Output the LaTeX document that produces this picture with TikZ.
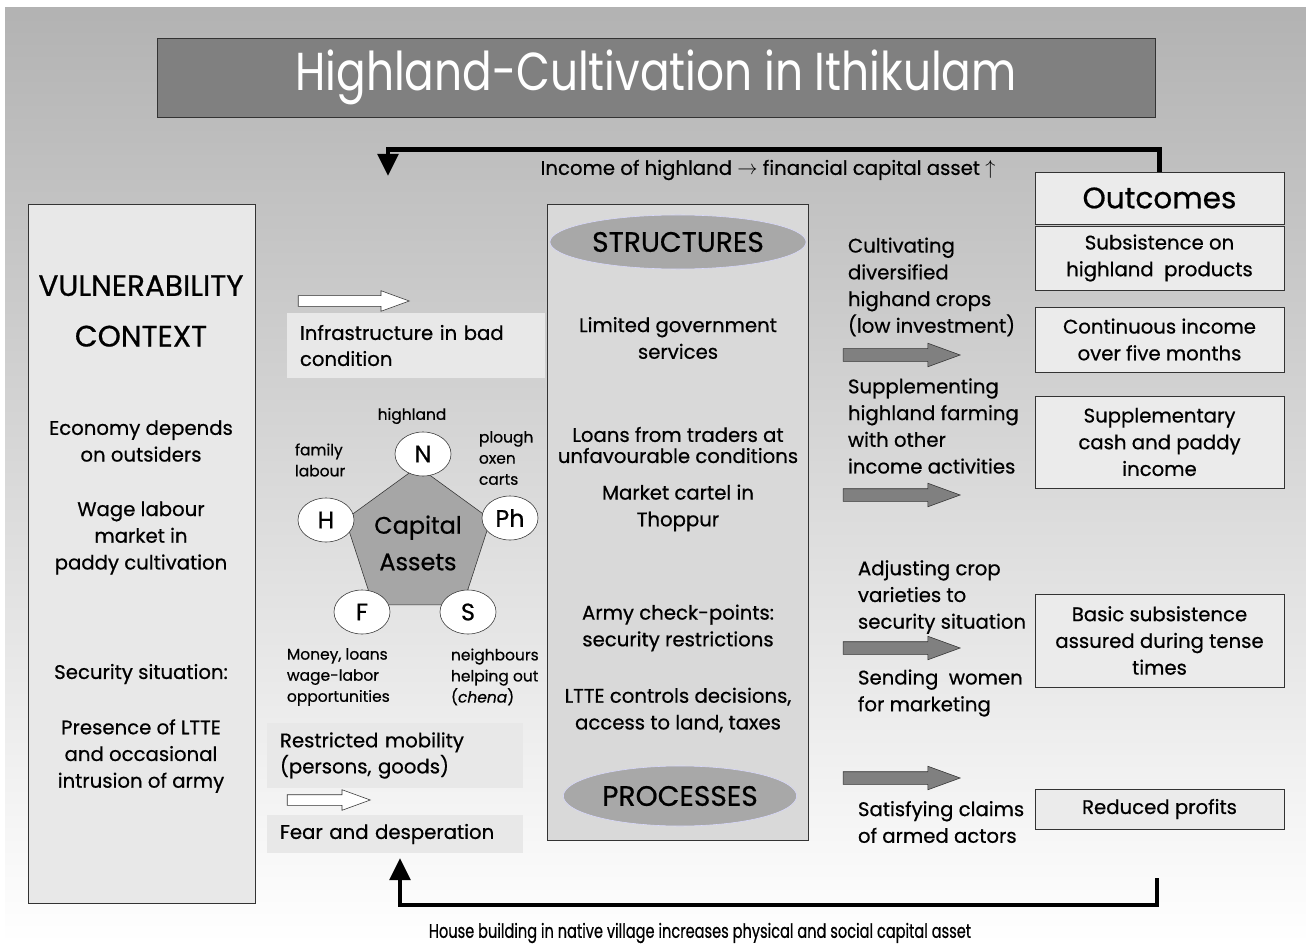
\documentclass[tikz,border=0pt]{standalone}
\usepackage{fontspec}
\setmainfont{Poppins}[FakeBold=0.6]
\newfontfamily\titlefont{Poppins}[FakeStretch=0.82]
\newfontfamily\narrowfont{Poppins}[FakeStretch=0.74, FakeBold=0.6]
\usetikzlibrary{shapes.geometric,shapes.arrows,arrows.meta}

\begin{document}
\begin{tikzpicture}[x=0.025cm, y=-0.025cm,
  box/.style={draw=black!80, line width=0.6pt, fill=black!8},
  pale/.style={fill=black!9, inner xsep=3.25mm, align=left, font=\fontsize{14}{18.5}\selectfont},
  txt/.style={font=\fontsize{14}{19}\selectfont, align=center},
  lefttxt/.style={font=\fontsize{14}{19}\selectfont, align=left, anchor=west},
  small/.style={font=\fontsize{11}{15}\selectfont, align=left, anchor=west},
  big/.style={font=\fontsize{21}{36}\selectfont, align=center},
  asset/.style={ellipse, draw=black!80, fill=white, minimum width=14mm, minimum height=11mm, inner sep=0pt, font=\fontsize{17}{17}\selectfont},
  oval/.style={ellipse, draw=blue!15, fill=black!34, minimum width=54mm, minimum height=13.5mm, font=\fontsize{20}{20}\selectfont},
  darrow/.style={single arrow, draw=black!80, fill=black!50, inner ysep=1.5mm, inner xsep=0pt, minimum height=29.25mm, single arrow head extend=1.375mm, single arrow tip angle=40},
  warrow/.style={single arrow, draw=black!80, fill=white, inner ysep=1.25mm, inner xsep=0pt, single arrow head extend=1.25mm, single arrow tip angle=40},
  fb/.style={line width=3.5pt, -{Triangle[length=5.5mm, width=5mm]}}]
  \shade [top color=black!30, bottom color=white] (5,8) rectangle (1306,944);
  \useasboundingbox (0,0) rectangle (1306,944);
  \node (title) at (656,77.5) [draw=black!80, fill=black!50, minimum width=249.5mm, minimum height=19.75mm, text=white, font=\titlefont\fontsize{38}{38}\selectfont] {Highland-Cultivation in Ithikulam};
  \node (vuln) at (141.5,554) [box, fill=black!9, minimum width=56.75mm, minimum height=174.5mm] {};
  \node (vhead) at (141,311) [big] {VULNERABILITY\\CONTEXT};
  \node (veco) at (141,441) [txt] {Economy depends\\on outsiders};
  \node (vwage) at (141,538) [txt] {Wage labour\\market in\\paddy cultivation};
  \node (vsec) at (141,674) [txt] {Security situation:};
  \node (vltte) at (141,756) [txt] {Presence of LTTE\\and occasional\\intrusion of army};
  \node (warr1) at (346.5,301) [warrow, minimum height=27.75mm] {};
  \node (infra) at (416,345.5) [pale, text width=58mm, minimum height=16.25mm] {Infrastructure in bad\\condition};
  \node (capital) at (418,543) [regular polygon, regular polygon sides=5, minimum size=33mm, draw=black!80, fill=black!35, font=\fontsize{17}{26}\selectfont, align=center, inner sep=0pt] {Capital\\Assets};
  \node (nN) at (423,454) [asset] {N};
  \node (nH) at (326,520) [asset] {H};
  \node (nPh) at (510,518) [asset] {Ph};
  \node (nF) at (362,612) [asset] {F};
  \node (nS) at (468,612) [asset] {S};
  \node (lhigh) at (412,416) [small, anchor=center] {highland};
  \node (lfam) at (290,460) [small] {family\\labour};
  \node (lplough) at (474,458) [small] {plough\\oxen\\carts};
  \node (lmoney) at (282,677) [small] {Money, loans\\wage-labor\\opportunities};
  \node (lneigh) at (446,677) [small] {neighbours\\helping out\\(\textit{chena})};
  \node (restr) at (395,755.5) [pale, text width=57.5mm, minimum height=16.25mm] {Restricted mobility\\(persons, goods)};
  \node (warr2) at (321.5,800) [warrow, minimum height=20.75mm] {};
  \node (fear) at (395,834) [pale, text width=57.5mm, minimum height=9.5mm] {Fear and desperation};
  \node (mid) at (677.5,522.5) [box, fill=black!15, minimum width=65.25mm, minimum height=158.75mm] {};
  \node (struct) at (678,242) [oval] {STRUCTURES};
  \node (slim) at (678,338) [txt] {Limited government\\services};
  \node (sloan) at (678,445) [txt, font=\fontsize{14}{15}\selectfont] {Loans from traders at\\unfavourable conditions};
  \node (smkt) at (678,508) [txt] {Market cartel in\\Thoppur};
  \node (sarmy) at (678,628) [txt] {Army check-points:\\security restrictions};
  \node (sltte) at (678,710) [txt] {LTTE controls decisions,\\access to land, taxes};
  \node (proc) at (680,796) [oval, minimum height=15mm] {PROCESSES};
  \node (rcult) at (843,287) [lefttxt] {Cultivating\\diversified\\highand crops\\(low investment)};
  \node (dar1) at (893,355) [darrow] {};
  \node (rsupp) at (843,426) [lefttxt] {Supplementing\\highland farming\\with other\\income activities};
  \node (dar2) at (893,495) [darrow] {};
  \node (radj) at (853,597) [lefttxt] {Adjusting crop\\varieties to\\security situation};
  \node (dar3) at (893,648) [darrow] {};
  \node (rsend) at (853,693) [lefttxt] {Sending\ \ women\\for marketing};
  \node (dar4) at (893,778) [darrow] {};
  \node (rsat) at (853,822) [lefttxt] {Satisfying claims\\of armed actors};
  \node (outc) at (1159.5,198) [box, minimum width=62.25mm, minimum height=13mm, font=\fontsize{21}{21}\selectfont] {Outcomes};
  \node (osub) at (1159.5,258) [box, txt, minimum width=62.25mm, minimum height=16mm] {Subsistence on\\highland\ \ products};
  \node (ocont) at (1159.5,339.5) [box, txt, minimum width=62.25mm, minimum height=16.25mm] {Continuous income\\over five months};
  \node (osupp) at (1159.5,442) [box, txt, minimum width=62.25mm, minimum height=23mm] {Supplementary\\cash and paddy\\income};
  \node (obasic) at (1159.5,640.5) [box, txt, minimum width=62.25mm, minimum height=23.25mm] {Basic subsistence\\assured during tense\\times};
  \node (ored) at (1159.5,809) [box, txt, minimum width=62.25mm, minimum height=10mm] {Reduced profits};
  \coordinate (fbtip) at (388,176);
  \draw [fb] (outc.north) -- ++(0,-22) -| (fbtip);
  \node (fblab) at (768,170) [txt] {Income of highland $\rightarrow$ financial capital asset $\uparrow$};
  \coordinate (bstart) at (1157,878);
  \coordinate (btip) at (400,858);
  \draw [fb] (bstart) -- ++(0,27) -| (btip);
  \node (bflab) at (700,933) [txt, font=\narrowfont\fontsize{14}{19}\selectfont] {House building in native village increases physical and social capital asset};
\end{tikzpicture}
\end{document}
